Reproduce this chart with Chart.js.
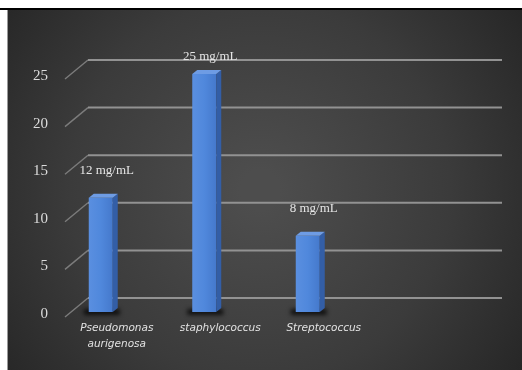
<!DOCTYPE html>
<html>
<head>
<meta charset="utf-8">
<script src="https://cdn.jsdelivr.net/npm/chart.js@4/dist/chart.umd.min.js"></script>
<style>
  html, body { margin: 0; padding: 0; background: #ffffff; }
  #wrap { width: 522px; height: 370px; position: relative; }
</style>
</head>
<body>
<div id="wrap"><canvas id="c" width="522" height="370"></canvas></div>
<script>
// Minimum inhibitory concentration per organism (mg/mL)
const categories = [['Pseudomonas', 'aurigenosa'], 'staphylococcus', 'Streptococcus', ''];
const micValues = [12, 25, 8, null];
const valueLabels = ['12 mg/mL', '25 mg/mL', '8 mg/mL', ''];
const yTicks = [0, 5, 10, 15, 20, 25];

// 3D offsets
const WALL_DX = 23, WALL_DY = 14;   // back wall relative to bar plane
const FRONT_DY = 5;                 // front floor edge below bar plane
const BAR_DX = 5, BAR_DY = 4;       // bar depth

const frame = {
  id: 'frame',
  beforeDraw(chart) {
    const ctx = chart.ctx;
    const W = chart.width, H = chart.height;
    ctx.save();
    ctx.fillStyle = '#ffffff';
    ctx.fillRect(0, 0, W, H);
    const g = ctx.createRadialGradient(260, 190, 20, 260, 190, 360);
    g.addColorStop(0, '#4d4d4d');
    g.addColorStop(0.5, '#3b3b3b');
    g.addColorStop(1, '#202020');
    ctx.fillStyle = g;
    ctx.fillRect(8, 10, W - 8, H - 10);
    ctx.fillStyle = '#000000';
    ctx.fillRect(0, 8, W, 2);
    ctx.fillStyle = '#9a9a9a';
    ctx.fillRect(7, 10, 1, H - 10);
    ctx.restore();
  }
};

const walls = {
  id: 'walls',
  beforeDatasetsDraw(chart) {
    const ctx = chart.ctx;
    const y = chart.scales.y;
    const area = chart.chartArea;
    const frontLeft = area.left + 16;
    const backLeft = frontLeft + WALL_DX;
    const backRight = area.right + WALL_DX + 16;
    ctx.save();
    ctx.filter = 'blur(0.6px)';
    yTicks.forEach(v => {
      const py = y.getPixelForValue(v);
      ctx.strokeStyle = '#7c7c7c';
      ctx.lineWidth = 1.4;
      ctx.beginPath();
      ctx.moveTo(frontLeft, py + FRONT_DY);
      ctx.lineTo(backLeft, py - WALL_DY);
      ctx.stroke();
      ctx.strokeStyle = '#929292';
      ctx.lineWidth = 2;
      ctx.beginPath();
      ctx.moveTo(backLeft, py - WALL_DY);
      ctx.lineTo(backRight, py - WALL_DY);
      ctx.stroke();
    });
    ctx.restore();
  }
};

const bars3d = {
  id: 'bars3d',
  afterDatasetsDraw(chart) {
    const ctx = chart.ctx;
    const meta = chart.getDatasetMeta(0);
    const area = chart.chartArea;
    ctx.save();
    meta.data.forEach((bar, i) => {
      if (micValues[i] == null) return;
      const p = bar.getProps(['x', 'y', 'base', 'width'], true);
      const l = p.x - p.width / 2, r = p.x + p.width / 2;
      const top = p.y, bot = p.base;
      // shadow on floor
      ctx.save();
      ctx.filter = 'blur(2px)';
      ctx.fillStyle = 'rgba(0,0,0,0.75)';
      ctx.fillRect(l - 5, bot - 3, p.width + 12, 6);
      ctx.restore();
      // front face
      const fg = ctx.createLinearGradient(l, 0, r, 0);
      fg.addColorStop(0, '#5a8fe0');
      fg.addColorStop(0.5, '#5088dc');
      fg.addColorStop(1, '#4579cc');
      ctx.fillStyle = fg;
      ctx.fillRect(l, top, p.width, bot - top);
      // side face
      ctx.fillStyle = '#335ea6';
      ctx.beginPath();
      ctx.moveTo(r, top);
      ctx.lineTo(r + BAR_DX, top - BAR_DY);
      ctx.lineTo(r + BAR_DX, bot - BAR_DY);
      ctx.lineTo(r, bot);
      ctx.closePath();
      ctx.fill();
      // top face
      ctx.fillStyle = '#6e9ce4';
      ctx.beginPath();
      ctx.moveTo(l, top);
      ctx.lineTo(l + BAR_DX, top - BAR_DY);
      ctx.lineTo(r + BAR_DX, top - BAR_DY);
      ctx.lineTo(r, top);
      ctx.closePath();
      ctx.fill();
      // value label, kept inside the plot frame
      ctx.fillStyle = '#e6e6e6';
      ctx.font = '13px "Liberation Serif", serif';
      ctx.textAlign = 'center';
      ctx.textBaseline = 'middle';
      const ly = Math.max(top - 27, area.top - 17);
      ctx.fillText(valueLabels[i], p.x + 6, ly);
    });
    ctx.restore();
  }
};

new Chart(document.getElementById('c'), {
  type: 'bar',
  data: {
    labels: categories,
    datasets: [{
      data: micValues,
      backgroundColor: 'rgba(0,0,0,0)',
      borderWidth: 0,
      barThickness: 24
    }]
  },
  options: {
    responsive: false,
    animation: false,
    devicePixelRatio: 1,
    layout: { padding: { top: 74, right: 59, left: 0, bottom: 0 } },
    plugins: { legend: { display: false }, tooltip: { enabled: false } },
    scales: {
      x: {
        grid: { display: false, drawTicks: false },
        border: { display: false },
        ticks: {
          color: '#e2e2e2',
          font: { family: '"DejaVu Sans", sans-serif', size: 10.5, style: 'italic', lineHeight: 1.45 },
          labelOffset: 16,
          padding: 9,
          maxRotation: 0,
          autoSkip: false
        },
        afterFit(scale) { scale.height = 58; }
      },
      y: {
        min: 0,
        max: 25,
        afterBuildTicks(scale) { scale.ticks = yTicks.map(v => ({ value: v })); },
        grid: { display: false, drawTicks: false },
        border: { display: false },
        ticks: {
          color: '#dcdcdc',
          font: { family: '"Liberation Serif", serif', size: 15 },
          padding: 1,
          labelOffset: 2
        },
        afterFit(scale) { scale.width = 49; }
      }
    }
  },
  plugins: [frame, walls, bars3d]
});
</script>
</body>
</html>
